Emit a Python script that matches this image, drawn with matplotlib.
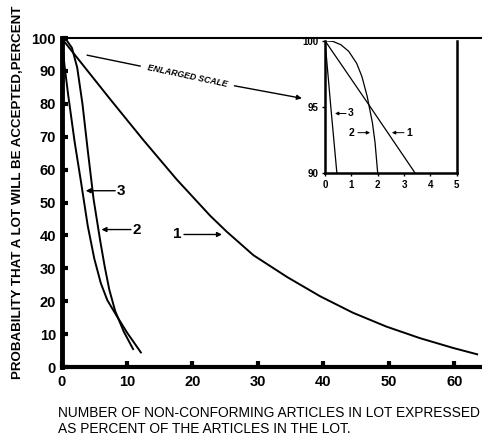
import matplotlib.pyplot as plt

plt.rcParams['font.family'] = ['Liberation Sans', 'DejaVu Sans']

# main curves, values (percent defective vs percent accepted)
c1_x = [0, 2.8, 7.4, 12.5, 17.6, 22.7, 25.2, 29.3, 34.5, 39.5, 44.5, 49.6, 54.7, 59.8, 63.6]
c1_y = [100, 93, 81.5, 69, 57, 46, 41.2, 34, 27.3, 21.5, 16.5, 12.3, 8.8, 5.8, 3.8]

c2_x = [0, 0.8, 1.6, 2.4, 3.2, 4.0, 4.9, 5.9, 6.6, 7.3, 8.2, 9.5, 11.0]
c2_y = [100, 99.3, 97, 91, 80, 66, 51, 38.5, 30.5, 23.5, 17, 10.8, 5.2]

c3_x = [0, 0.5, 1.0, 2.0, 3.0, 4.0, 5.0, 6.0, 7.0, 8.2, 10.0, 12.2]
c3_y = [100, 91, 83, 68.5, 56, 43, 33, 25.5, 20.3, 16.3, 10.5, 4.2]

# enlarged scale (inset)
i1_x = [0, 1.65, 3.42]
i1_y = [100, 95.2, 90]
i2_x = [0, 0.3, 0.6, 0.9, 1.2, 1.4, 1.6, 1.8, 1.9, 2.0]
i2_y = [100, 99.95, 99.7, 99.2, 98.3, 97.3, 95.8, 93.8, 92.3, 90]
i3_x = [0, 0.22, 0.45]
i3_y = [100, 95, 90]

x_ticks = [0, 10, 20, 30, 40, 50, 60]
y_ticks = [0, 10, 20, 30, 40, 50, 60, 70, 80, 90, 100]
inset_x_ticks = [0, 1, 2, 3, 4, 5]
inset_y_ticks = [90, 95, 100]

fig = plt.figure(figsize=(4.82, 4.38), dpi=100)
ax = fig.add_axes([0.1276, 0.162, 0.8724, 0.751])

for xs, ys in [(c1_x, c1_y), (c2_x, c2_y), (c3_x, c3_y)]:
    ax.plot(xs, ys, color='black', lw=1.4, solid_capstyle='butt', solid_joinstyle='round')

ax.set_xlim(0, 64.2)
ax.set_ylim(0, 100)
ax.spines['right'].set_visible(False)
ax.spines['left'].set_linewidth(3.5)
ax.spines['bottom'].set_linewidth(3)
ax.spines['top'].set_linewidth(1.5)
ax.set_xticks(x_ticks)
ax.set_yticks(y_ticks)
ax.tick_params(direction='in', length=4, width=3, pad=4, labelsize=10.5)
ax.tick_params(axis='x', pad=6)
for lab in ax.get_xticklabels() + ax.get_yticklabels():
    lab.set_fontweight('bold')

arr = dict(arrowstyle='-|>', color='black', lw=1, mutation_scale=7, shrinkA=0, shrinkB=0)
ax.annotate('', xy=(3.7, 53.6), xytext=(8.2, 53.6), arrowprops=arr)
ax.text(8.5, 53.6, '3', ha='left', va='center', fontsize=11, fontweight='bold')
ax.annotate('', xy=(6.1, 41.8), xytext=(10.6, 41.8), arrowprops=arr)
ax.text(10.9, 41.8, '2', ha='left', va='center', fontsize=11, fontweight='bold')
ax.annotate('', xy=(24.5, 40.3), xytext=(18.7, 40.3), arrowprops=arr)
ax.text(18.3, 40.3, '1', ha='right', va='center', fontsize=11, fontweight='bold')

# "enlarged scale" pointer
ax.plot([3.94, 12.0], [94.8, 91.5], color='black', lw=1)
ax.annotate('', xy=(36.7, 81.7), xytext=(26.4, 85.5), arrowprops=arr)
ax.text(19.3, 88.4, 'ENLARGED SCALE', rotation=-12, ha='center', va='center',
        fontsize=6.3, fontweight='bold', style='italic')

# inset
ins = fig.add_axes([0.6743, 0.605, 0.2732, 0.302])
for xs, ys in [(i1_x, i1_y), (i2_x, i2_y), (i3_x, i3_y)]:
    ins.plot(xs, ys, color='black', lw=0.9)
ins.set_xlim(0, 5)
ins.set_ylim(90, 100)
ins.spines['top'].set_visible(False)
for s in ['left', 'bottom', 'right']:
    ins.spines[s].set_linewidth(1.8)
ins.set_xticks(inset_x_ticks)
ins.set_yticks(inset_y_ticks)
ins.tick_params(direction='out', length=2.5, width=1, pad=2.5, labelsize=7)
for lab in ins.get_xticklabels() + ins.get_yticklabels():
    lab.set_fontweight('bold')

arr_s = dict(arrowstyle='-|>', color='black', lw=0.7, mutation_scale=5, shrinkA=0, shrinkB=0)
ins.annotate('', xy=(0.38, 94.5), xytext=(0.8, 94.5), arrowprops=arr_s)
ins.text(0.88, 94.5, '3', ha='left', va='center', fontsize=7.5, fontweight='bold')
ins.annotate('', xy=(1.71, 93.05), xytext=(1.25, 93.05), arrowprops=arr_s)
ins.text(1.1, 93.05, '2', ha='right', va='center', fontsize=7.5, fontweight='bold')
ins.annotate('', xy=(2.54, 93.05), xytext=(3.0, 93.05), arrowprops=arr_s)
ins.text(3.1, 93.05, '1', ha='left', va='center', fontsize=7.5, fontweight='bold')

fig.text(18 / 482, 1 - 192 / 438, 'PROBABILITY THAT A LOT WILL BE ACCEPTED,PERCENT',
         rotation=90, ha='center', va='center', fontsize=9.6, fontweight='bold')
fig.text(58 / 482, 1 - 412.7 / 438, 'NUMBER OF NON-CONFORMING ARTICLES IN LOT EXPRESSED',
         ha='left', va='center', fontsize=9.9)
fig.text(58 / 482, 1 - 429.3 / 438, 'AS PERCENT OF THE ARTICLES IN THE LOT.',
         ha='left', va='center', fontsize=9.9)

fig.savefig('out.png', dpi=100)
